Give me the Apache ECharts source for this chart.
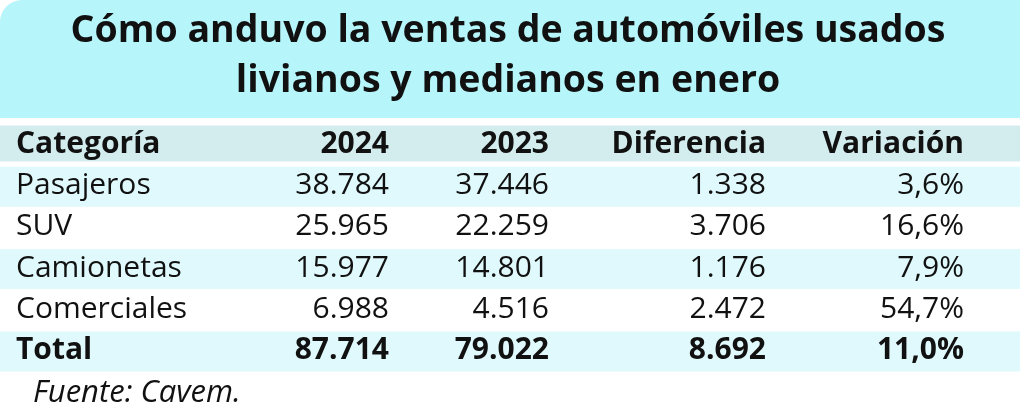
<!DOCTYPE html>
<html>
<head>
<meta charset="utf-8">
<script src="https://cdn.jsdelivr.net/npm/echarts@6/dist/echarts.min.js"></script>
<style>html,body{margin:0;padding:0;background:#fff}#c{width:1024px;height:419px}</style>
</head>
<body>
<div id="c"></div>
<script>
const titleText = 'Cómo anduvo la ventas de automóviles usados\nlivianos y medianos en enero';
const sourceText = 'Fuente: Cavem.';
const headers = ['Categoría', '2024', '2023', 'Diferencia', 'Variación'];
const categories = ['Pasajeros', 'SUV', 'Camionetas', 'Comerciales', 'Total'];
const values2024 = [38784, 25965, 15977, 6988, 87714];
const values2023 = [37446, 22259, 14801, 4516, 79022];
const diferencia = [1338, 3706, 1176, 2472, 8692];
const variacion = [3.6, 16.6, 7.9, 54.7, 11.0];

function fmtInt(v) { return String(v).replace(/\B(?=(\d{3})+(?!\d))/g, '.'); }
function fmtPct(v) { return v.toFixed(1).replace('.', ',') + '%'; }

const rowKeys = ['header'].concat(categories);
const tableRows = [headers].concat(categories.map((c, i) => [
  c, fmtInt(values2024[i]), fmtInt(values2023[i]), fmtInt(diferencia[i]), fmtPct(variacion[i])
]));

const colAnchor = [16, 389, 549, 766, 964];
const colAlign = ['left', 'right', 'right', 'right', 'right'];
const FONT = '"Open Sans", "Noto Sans", sans-serif';

const chart = echarts.init(document.getElementById('c'), null, { renderer: 'canvas' });
chart.setOption({
  backgroundColor: '#ffffff',
  animation: false,
  graphic: [{
    type: 'rect', z: 0,
    shape: { x: 0, y: 0, width: 1020, height: 118, r: [22, 0, 0, 0] },
    style: { fill: '#b6f6fb' }
  }],
  title: [{
    text: titleText,
    left: 503, top: 1, textAlign: 'center', z: 10,
    textStyle: { fontFamily: FONT, fontSize: 37.5, fontWeight: 'bold', color: '#111', lineHeight: 50 }
  }, {
    text: sourceText,
    left: 28, top: 373,
    textStyle: { fontFamily: FONT, fontSize: 31, fontStyle: 'italic', fontWeight: 'normal', color: '#111' }
  }],
  grid: { left: 0, right: 4, top: 125, bottom: 47 },
  xAxis: { type: 'value', min: 0, max: 1020, show: false },
  yAxis: { type: 'category', data: rowKeys, inverse: true, show: false },
  series: [{
    type: 'custom',
    data: rowKeys.map((k, i) => [0, i]),
    encode: { x: 0, y: 1 },
    renderItem: function (params, api) {
      const idx = api.value(1);
      const c = api.coord([0, idx]);
      const end = api.coord([1020, idx]);
      const cy = c[1];
      const children = [];
      const isHeader = idx === 0;
      const isBold = isHeader || idx === rowKeys.length - 1;
      let fill = null, bh = 0;
      if (isHeader) { fill = '#d3ecee'; bh = 36; }
      else if (idx % 2 === 1) { fill = '#e0f9fc'; bh = 40; }
      if (fill) {
        children.push({ type: 'rect', shape: { x: c[0], y: cy - bh / 2 - (isHeader ? 2 : 0), width: end[0] - c[0], height: bh }, style: { fill: fill } });
      }
      tableRows[idx].forEach(function (txt, j) {
        const p = api.coord([colAnchor[j], idx]);
        children.push({
          type: 'text',
          style: {
            x: p[0], y: cy - 1, text: txt,
            textAlign: colAlign[j], textVerticalAlign: 'middle',
            font: (isBold ? 'bold ' : '') + '30px ' + FONT,
            fill: '#111'
          }
        });
      });
      return { type: 'group', children: children };
    }
  }]
});
</script>
</body>
</html>
